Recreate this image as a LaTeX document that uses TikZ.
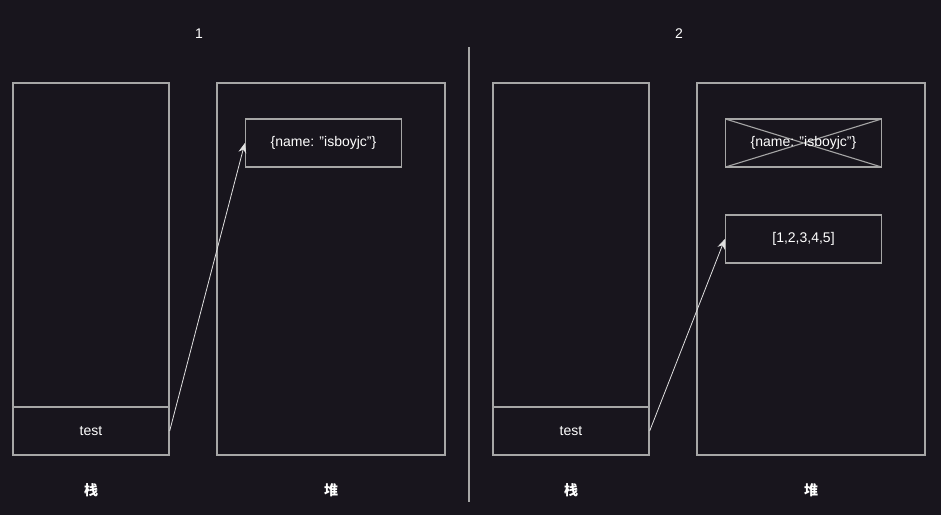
\documentclass[tikz,border=0pt]{standalone}
\usepackage{fontspec}
\setmainfont{Liberation Sans}
\newfontfamily\cjk{Noto Sans CJK SC}
\usetikzlibrary{arrows.meta}
\definecolor{bgdark}{HTML}{18151D}
\definecolor{edgegray}{HTML}{A6A6A6}
\definecolor{wiregray}{HTML}{E0E0E0}
\newcommand{\qq}{\symbol{34}}
\tikzset{
  memarea/.style={draw=edgegray, line width=1.3pt, minimum width=156pt, minimum height=372pt, inner sep=0pt},
  heaparea/.style={memarea, minimum width=228pt},
  cell/.style={draw=edgegray, line width=1.3pt, minimum width=156pt, minimum height=48pt, inner sep=0pt, text=white, font=\fontsize{14}{14}\selectfont},
  deadcell/.style={cell, path picture={
      \draw[edgegray, line width=1.1pt] (path picture bounding box.north west) -- (path picture bounding box.south east)
            (path picture bounding box.south west) -- (path picture bounding box.north east);}},
  caption/.style={text=white, font=\cjk\bfseries\fontsize{14}{14}\selectfont},
  stepnum/.style={text=white, font=\fontsize{14}{14}\selectfont},
  ref/.style={draw=wiregray, line width=0.8pt, -{Stealth[length=10pt,width=8pt]}}
}
\begin{document}
\begin{tikzpicture}[x=1pt,y=-1pt]
                            % Background and frame:
                            \fill[bgdark] (0,0) rectangle (941,515);
                            \useasboundingbox (0,0) rectangle (941,515);
                            % Step 1:
                            \node[stepnum] (numA) at (199,34){1};
                            \node[memarea] (stackA) at (91,269){};
                            \node[cell] (testA) at (91,431){test};
                            \node[heaparea] (heapA) at (331,269){};
                            \node[cell] (objA) at (323.5,143){\{name: \qq isboyjc\qq\}};
                            \node[caption] (capstackA) at (91,490){栈};
                            \node[caption] (capheapA) at (331,490){堆};
                            \draw[ref] (testA.east) -- (objA.west);
                            % Divider:
                            \coordinate (divtop) at (469,47);
                            \coordinate (divbot) at (469,502);
                            \draw[edgegray, line width=1.3pt] (divtop) -- (divbot);
                            % Step 2:
                            \node[stepnum] (numB) at (679,34){2};
                            \node[memarea] (stackB) at (571,269){};
                            \node[cell] (testB) at (571,431){test};
                            \node[heaparea] (heapB) at (811,269){};
                            \node[deadcell] (objB) at (803.5,143){\{name: \qq isboyjc\qq\}};
                            \node[cell] (arrB) at (803.5,239){[1,2,3,4,5]};
                            \node[caption] (capstackB) at (571,490){栈};
                            \node[caption] (capheapB) at (811,490){堆};
                            \draw[ref] (testB.east) -- (arrB.west);
                        \end{tikzpicture}
\end{document}
